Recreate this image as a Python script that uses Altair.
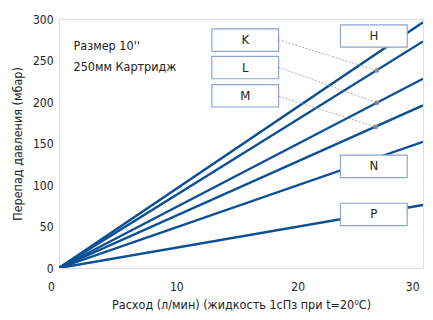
import altair as alt
import pandas as pd

# Series: pressure drop (mbar) at 30 l/min, lines from origin
series = ["H", "K", "L", "M", "N", "P"]
flow_end = [30, 30, 30, 30, 30, 30]
dp_end = [296, 273, 228, 196, 152, 76]

# Label boxes (annotation placement)
box_labels = ["K", "L", "M", "H", "N", "P"]
box_x1 = [12.6, 12.6, 12.6, 23.2, 23.2, 23.2]
box_x2 = [18.1, 18.1, 18.1, 28.7, 28.7, 28.7]
box_y1 = [261, 228, 194, 266, 109, 51]
box_y2 = [288, 255, 221, 293, 136, 78]

# Leader lines K, L, M -> markers on lines
lead_x1 = [18.1, 18.1, 18.1]
lead_y1 = [275, 242, 207]
lead_x2 = [26.2, 26.2, 26.1]
lead_y2 = [238, 199, 170]

note_lines = ["Размер 10''", "250мм Картридж"]
note_y = [267, 242]

FONT = "DejaVu Sans Condensed, Liberation Sans Narrow, sans-serif"
LINE = "#0c4f95"

rows = []
for s, xe, ye in zip(series, flow_end, dp_end):
    rows.append({"s": s, "x": 0, "y": 0})
    rows.append({"s": s, "x": xe, "y": ye})
lines_df = pd.DataFrame(rows)

xs = alt.Scale(domain=[0, 30], nice=False)
ys = alt.Scale(domain=[0, 300], nice=False)

xaxis = alt.Axis(values=[0, 10, 20, 30], title="Расход (л/мин) (жидкость 1сПз при t=20⁰C)",
                 grid=False, ticks=False, domain=False,
                 labelOffset={"condition": {"test": "datum.value == 0", "value": -8}, "value": -4},
                 labelAlign={"condition": {"test": "datum.value == 30", "value": "right"}, "value": "center"},
                 labelPadding=13,
                 labelFont=FONT, labelFontSize=12, labelColor="#222",
                 titleFont=FONT, titleFontSize=12.5, titleFontWeight="normal", titleColor="#222",
                 titlePadding=6)
yaxis = alt.Axis(values=[0, 50, 100, 150, 200, 250, 300], title="Перепад давления (мбар)",
                 grid=False, ticks=False, domain=False, labelPadding=6,
                 labelFont=FONT, labelFontSize=12, labelColor="#222",
                 titleFont=FONT, titleFontSize=12.5, titleFontWeight="normal", titleColor="#222",
                 titlePadding=8)

lines = alt.Chart(lines_df).mark_line(color=LINE, strokeWidth=2.4, clip=True).encode(
    x=alt.X("x:Q", scale=xs, axis=xaxis),
    y=alt.Y("y:Q", scale=ys, axis=yaxis),
    detail="s:N",
)

lead_df = pd.DataFrame({"x1": lead_x1, "y1": lead_y1, "x2": lead_x2, "y2": lead_y2})
leaders = alt.Chart(lead_df).mark_rule(color="#9a9a9a", strokeWidth=0.8, strokeDash=[2, 1.5]).encode(
    x=alt.X("x1:Q", scale=xs), y=alt.Y("y1:Q", scale=ys), x2="x2:Q", y2="y2:Q")
dots = alt.Chart(lead_df).mark_circle(color="#8a8a8a", size=22, opacity=1).encode(
    x=alt.X("x2:Q", scale=xs), y=alt.Y("y2:Q", scale=ys))

box_df = pd.DataFrame({"t": box_labels, "x1": box_x1, "x2": box_x2, "y1": box_y1, "y2": box_y2})
box_df["xm"] = (box_df["x1"] + box_df["x2"]) / 2
box_df["ym"] = (box_df["y1"] + box_df["y2"]) / 2
boxes = alt.Chart(box_df).mark_rect(fill="white", stroke="#8ea4d2", strokeWidth=1.2).encode(
    x=alt.X("x1:Q", scale=xs), x2="x2:Q", y=alt.Y("y1:Q", scale=ys), y2="y2:Q")
box_text = alt.Chart(box_df).mark_text(font=FONT, fontSize=13, color="#222").encode(
    x=alt.X("xm:Q", scale=xs), y=alt.Y("ym:Q", scale=ys), text="t:N")

note_df = pd.DataFrame({"t": note_lines, "y": note_y, "x": [1.2, 1.2]})
notes = alt.Chart(note_df).mark_text(font=FONT, fontSize=12.5, color="#222", align="left").encode(
    x=alt.X("x:Q", scale=xs), y=alt.Y("y:Q", scale=ys), text="t:N")

chart = alt.layer(lines, leaders, dots, boxes, box_text, notes).properties(
    width=364, height=249,
    autosize=alt.AutoSizeParams(type="none"),
    padding={"left": 51, "top": 11, "right": 2, "bottom": 44},
).configure_view(fill="#e9edf6", stroke="#7d93c8", strokeWidth=2.5).configure(background="white")

chart.save("out.html", embed_options={"renderer": "svg", "actions": False})
